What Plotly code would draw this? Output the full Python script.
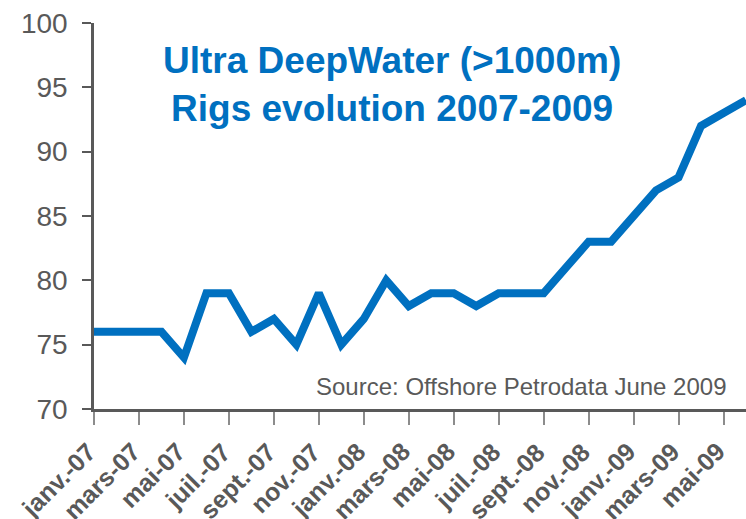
import plotly.graph_objects as go

months = ["janv.-07", "févr.-07", "mars-07", "avr.-07", "mai-07", "juin-07",
          "juil.-07", "août-07", "sept.-07", "oct.-07", "nov.-07", "déc.-07",
          "janv.-08", "févr.-08", "mars-08", "avr.-08", "mai-08", "juin-08",
          "juil.-08", "août-08", "sept.-08", "oct.-08", "nov.-08", "déc.-08",
          "janv.-09", "févr.-09", "mars-09", "avr.-09", "mai-09", "juin-09"]
rigs = [76, 76, 76, 76, 74, 79, 79, 76, 77, 75, 79, 75,
        77, 80, 78, 79, 79, 78, 79, 79, 79, 81, 83, 83,
        85, 87, 88, 92, 93, 94]
tick_labels = months[::2]
y_ticks = [70, 75, 80, 85, 90, 95, 100]

FONT = "Liberation Sans, Arial, sans-serif"
GRAY = "#595959"

fig = go.Figure()
fig.add_trace(go.Scatter(
    x=months, y=rigs, mode="lines",
    line=dict(color="#0070C0", width=8),
    cliponaxis=True, showlegend=False,
))

annotations = [
    dict(text="<b>Ultra DeepWater (>1000m)<br>Rigs evolution 2007-2009</b>",
         xref="paper", yref="paper", x=(392 - 94) / 652, y=1.0 - (38 - 23) / 386,
         xanchor="center", yanchor="top", showarrow=False,
         font=dict(size=37, color="#0070C0", family=FONT)),
    dict(text="Source: Offshore Petrodata June 2009",
         xref="paper", yref="paper", x=(729 - 94) / 652, y=0.017,
         xanchor="right", yanchor="bottom", showarrow=False,
         font=dict(size=24, color=GRAY, family=FONT)),
]
for lab in tick_labels:
    annotations.append(dict(
        text="<b>" + lab + "</b>", x=lab, xref="x", y=-0.07, yref="paper",
        xanchor="right", yanchor="top", xshift=8, textangle=-45,
        showarrow=False, borderpad=0,
        font=dict(size=25, color=GRAY, family=FONT),
    ))

fig.update_layout(
    width=746, height=519,
    margin=dict(l=94, r=0, t=23, b=110),
    plot_bgcolor="white", paper_bgcolor="white",
    font=dict(family=FONT, color=GRAY),
    xaxis=dict(
        type="category", range=[0, len(months) - 1], automargin=False,
        tickmode="array", tickvals=tick_labels, showticklabels=False,
        ticks="outside", ticklen=13, tickwidth=2, tickcolor="#8c8c8c",
        showline=True, linecolor=GRAY, linewidth=2.5,
        showgrid=False, zeroline=False,
    ),
    yaxis=dict(
        range=[70, 100], tickvals=y_ticks, automargin=False,
        ticks="outside", ticklen=9, tickwidth=2, tickcolor=GRAY,
        tickfont=dict(size=28, color=GRAY, family=FONT),
        ticklabelstandoff=9,
        showline=True, linecolor=GRAY, linewidth=2.5,
        showgrid=False, zeroline=False,
    ),
    annotations=annotations,
)

fig.write_html("out.html", config={"displayModeBar": False},
               post_script="document.body.style.margin='0px';document.body.style.overflow='hidden';")
